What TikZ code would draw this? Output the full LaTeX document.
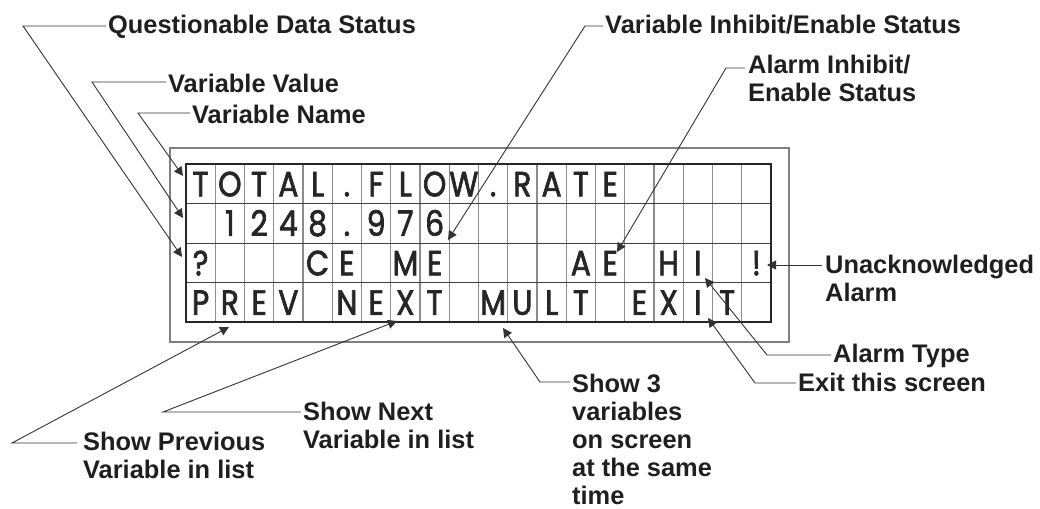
\documentclass[tikz,border=0pt]{standalone}
\usepackage{fontspec}
\setmainfont{Liberation Sans}
\newfontfamily\lcdfont[FakeStretch=0.85,FakeBold=2]{Poppins}
\usetikzlibrary{arrows.meta}

\tikzset{
  lbl/.style={anchor=north west, inner sep=0pt, align=left,
    font=\bfseries\fontsize{25.4}{28.5}\selectfont, text=black!88},
  lcd/.style={anchor=base, inner sep=0pt,
    font=\lcdfont\fontsize{35}{35}\selectfont, text=black!85},
  lead/.style={draw=black!80, line width=0.9pt},
  tip/.style={-{Triangle[length=9pt,width=9pt]}},
}

\begin{document}
\begin{tikzpicture}[x=1pt,y=-1pt]
  \useasboundingbox (0,0) rectangle (1040,508);
  % display frame and character grid
  \draw[black!50, line width=1.5pt] (170,148) rectangle (789,342);
  \foreach \c in {1,...,19}
    \draw[black!45, line width=1.3pt] ({186+\c*29.25},164) -- ({186+\c*29.25},322);
  \foreach \r in {1,2,3}
    \draw[black!75, line width=1pt] (186,{164+\r*39.5}) -- (771,{164+\r*39.5});
  \draw[black!85, line width=1.3pt] (186,164) rectangle (771,322);

  % characters on the screen
  \foreach \c/\ch in {1/T,2/O,3/T,4/A,5/L,6/.,7/F,8/L,9/O,10/W,11/.,12/R,13/A,14/T,15/E}
    \node[lcd] (ra\c) at ({186+(\c-0.5)*29.25},196.3) {\ch};
  \foreach \c/\ch in {2/1,3/2,4/4,5/8,6/.,7/9,8/7,9/6}
    \node[lcd] (rb\c) at ({186+(\c-0.5)*29.25},235.8) {\ch};
  \foreach \c/\ch in {1/?,5/C,6/E,8/M,9/E,14/A,15/E,17/H,18/I,20/!}
    \node[lcd] (rc\c) at ({186+(\c-0.5)*29.25},275.3) {\ch};
  \foreach \c/\ch in {1/P,2/R,3/E,4/V,6/N,7/E,8/X,9/T,11/M,12/U,13/L,14/T,16/E,17/X,18/I,19/T}
    \node[lcd] (rd\c) at ({186+(\c-0.5)*29.25},314.8) {\ch};

  % labels
  \node[lbl] (qds) at (108,14.7) {Questionable Data Status};
  \node[lbl] (vval) at (168,73.7) {Variable Value};
  \node[lbl] (vname) at (192,104.7) {Variable Name};
  \node[lbl] (vinh) at (605,14.7) {Variable Inhibit/Enable Status};
  \node[lbl] (ainh) at (748,54.7) {Alarm Inhibit/\\Enable Status};
  \node[lbl] (unack) at (825,254.7) {Unacknowledged\\Alarm};
  \node[lbl] (atype) at (833,343.7) {Alarm Type};
  \node[lbl] (exit) at (798,372.7) {Exit this screen};
  \node[lbl, font=\bfseries\fontsize{25.4}{27.8}\selectfont] (mult) at (572,374.2)
    {Show 3\\variables\\on screen\\at the same\\time};
  \node[lbl] (next) at (303,401.7) {Show Next\\Variable in list};
  \node[lbl] (prev) at (83,431.7) {Show Previous\\Variable in list};

  % knees and arrow tips
  \coordinate (kQ) at (23,26);    \coordinate (tQ) at (182,257);
  \coordinate (kV) at (92,82);    \coordinate (tV) at (183,218);
  \coordinate (kN) at (138,113);  \coordinate (tN) at (183,176);
  \coordinate (kI) at (585,26);   \coordinate (tI) at (448,240);
  \coordinate (kA) at (726,68);   \coordinate (tA) at (617,252);
  \coordinate (tU) at (767,265);
  \coordinate (kT) at (767,355);  \coordinate (tT) at (705,278);
  \coordinate (kE) at (755,383);  \coordinate (tE) at (708,318);
  \coordinate (kM) at (540,382);  \coordinate (tM) at (503,328);
  \coordinate (kX) at (163,412);  \coordinate (tX) at (397,321);
  \coordinate (kP) at (12,443);   \coordinate (tP) at (229,327);

  % leaders
  \draw[lead,tip] ([xshift=-2pt]qds.west |- kQ) -- (kQ) -- (tQ);
  \draw[lead,tip] ([xshift=-2pt]vval.west |- kV) -- (kV) -- (tV);
  \draw[lead,tip] ([xshift=-2pt]vname.west |- kN) -- (kN) -- (tN);
  \draw[lead,tip] ([xshift=-2pt]vinh.west |- kI) -- (kI) -- (tI);
  \draw[lead,tip] ([xshift=-3pt]ainh.west |- kA) -- (kA) -- (tA);
  \draw[lead,tip] ([xshift=-3pt]unack.west |- tU) -- (tU);
  \draw[lead,tip] ([xshift=-2pt]atype.west |- kT) -- (kT) -- (tT);
  \draw[lead,tip] ([xshift=-2pt]exit.west |- kE) -- (kE) -- (tE);
  \draw[lead,tip] ([xshift=-2pt]mult.west |- kM) -- (kM) -- (tM);
  \draw[lead,tip] ([xshift=-2pt]next.west |- kX) -- (kX) -- (tX);
  \draw[lead,tip] ([xshift=-6pt]prev.west |- kP) -- (kP) -- (tP);
\end{tikzpicture}
\end{document}
